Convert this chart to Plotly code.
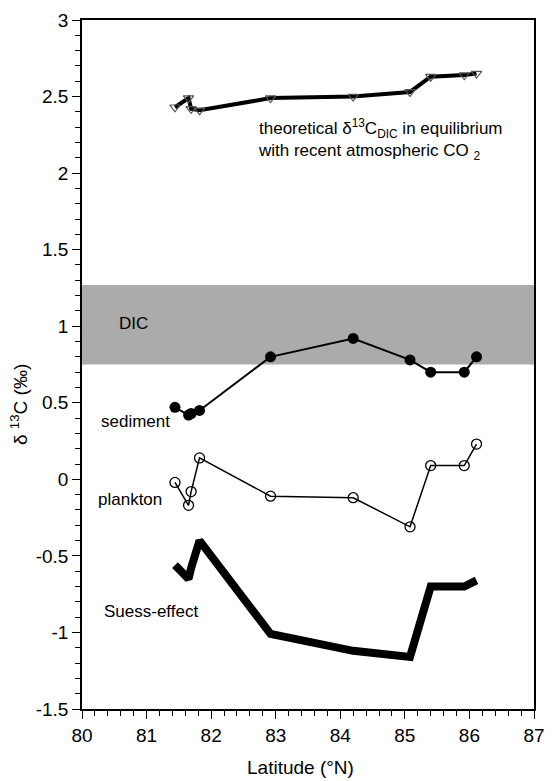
import plotly.graph_objects as go

latitude = [81.44, 81.65, 81.69, 81.82, 82.92, 84.20, 85.08, 85.40, 85.92, 86.11]
theoretical = [2.43, 2.49, 2.42, 2.41, 2.49, 2.50, 2.53, 2.63, 2.64, 2.65]
sediment = [0.47, 0.42, 0.43, 0.45, 0.80, 0.92, 0.78, 0.70, 0.70, 0.80]
plankton = [-0.02, -0.17, -0.08, 0.14, -0.11, -0.12, -0.31, 0.09, 0.09, 0.23]
suess = [-0.56, -0.65, -0.58, -0.40, -1.01, -1.12, -1.16, -0.70, -0.70, -0.66]
dic_range = [0.75, 1.27]
x_ticks = [80, 81, 82, 83, 84, 85, 86, 87]
y_ticks = [-1.5, -1, -0.5, 0, 0.5, 1, 1.5, 2, 2.5, 3]
y_tick_text = ["-1.5", "-1", "-0.5", "0", "0.5", "1", "1.5", "2", "2.5", "3"]

FONT = "Liberation Sans, Arial, Helvetica, sans-serif"

fig = go.Figure()

fig.add_shape(type="rect", xref="paper", yref="y", x0=0, x1=1,
              y0=dic_range[0], y1=dic_range[1],
              fillcolor="#ababab", line=dict(width=0), layer="below")

fig.add_trace(go.Scatter(x=latitude, y=suess, mode="lines",
                         line=dict(color="black", width=8), showlegend=False))
fig.add_trace(go.Scatter(x=latitude, y=theoretical, mode="lines+markers",
                         line=dict(color="black", width=4),
                         marker=dict(symbol="triangle-down-open", size=9,
                                     color="#555", line=dict(color="#333", width=1.2)),
                         showlegend=False))
fig.add_trace(go.Scatter(x=latitude, y=sediment, mode="lines+markers",
                         line=dict(color="black", width=2),
                         marker=dict(symbol="circle", size=11, color="black"),
                         showlegend=False))
fig.add_trace(go.Scatter(x=latitude, y=plankton, mode="lines+markers",
                         line=dict(color="black", width=1.5),
                         marker=dict(symbol="circle-open", size=10, color="black",
                                     line=dict(width=1.3)),
                         showlegend=False))

lab = dict(family=FONT, size=17, color="black")
anns = [
    dict(x=80.80, y=1.02, text="DIC", xanchor="center", yanchor="middle"),
    dict(x=80.83, y=0.38, text="sediment", xanchor="center", yanchor="middle"),
    dict(x=80.74, y=-0.13, text="plankton", xanchor="center", yanchor="middle"),
    dict(x=81.07, y=-0.86, text="Suess-effect", xanchor="center", yanchor="middle"),
    dict(x=82.69, y=2.22, xanchor="left", yanchor="middle", align="left",
         text="theoretical δ<sup>13</sup>C<sub>DIC</sub> in equilibrium<br>with recent atmospheric CO <sub>2</sub>"),
]
for a in anns:
    fig.add_annotation(xref="x", yref="y", showarrow=False, font=lab, **a)

fig.add_annotation(xref="paper", yref="paper", x=0.483, y=-0.085,
                   text="Latitude (°N)", showarrow=False,
                   font=dict(family=FONT, size=19, color="black"),
                   xanchor="center", yanchor="middle")
fig.add_annotation(xref="paper", yref="paper", x=-0.138, y=0.442,
                   text="δ <sup>13</sup>C (‰)", showarrow=False, textangle=-90,
                   font=dict(family=FONT, size=19, color="black"),
                   xanchor="center", yanchor="middle")

fig.update_layout(
    width=555, height=781,
    margin=dict(l=82, r=10, t=14, b=72),
    plot_bgcolor="white", paper_bgcolor="white",
    font=dict(family=FONT, size=19, color="black"),
    xaxis=dict(range=[80, 87], tickvals=x_ticks, ticks="outside", ticklen=8,
               tickwidth=1.2, tickcolor="black", showline=True, linecolor="black",
               linewidth=1.5, mirror=True, showgrid=False, zeroline=False,
               minor=dict(dtick=0.2, ticks="outside", ticklen=5, tickcolor="black",
                          showgrid=False),
               tickfont=dict(family=FONT, size=19)),
    yaxis=dict(range=[-1.5, 3], tickvals=y_ticks, ticktext=y_tick_text,
               ticks="outside", ticklen=8,
               tickwidth=1.2, tickcolor="black", showline=True, linecolor="black",
               linewidth=1.5, mirror=True, showgrid=False, zeroline=False,
               minor=dict(dtick=0.1, ticks="outside", ticklen=5, tickcolor="black",
                          showgrid=False),
               tickfont=dict(family=FONT, size=19)),
)

fig.write_html("out.html", config={"displayModeBar": False},
               post_script="document.body.style.margin='0';document.body.style.overflow='hidden';")
